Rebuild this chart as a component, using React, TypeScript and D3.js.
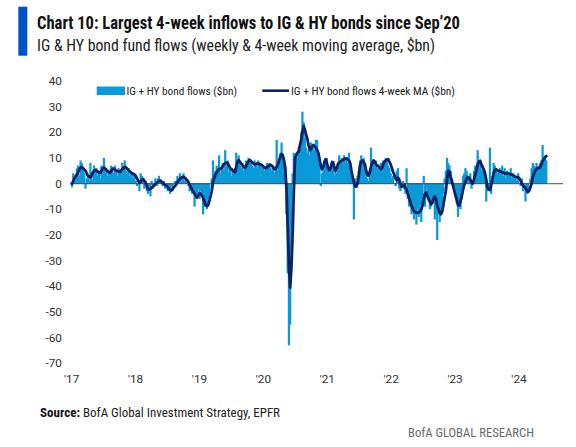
import React from "react";
import * as d3 from "d3";

// Weekly IG + HY bond fund flows ($bn), Jan 2017 onward (388 weeks)
const weeklyFlows: number[] = [
  -1.5, 4, 3, 1.5, 6, 7, 3, 9, 8, 5,
  4, -2, 2, 3, 1, 8, 3, 1, 7, 6,
  6, 3, 5, 2, 7, 5, 10, 4, 6, 3,
  5, 3, 7, 6, 4, 7, 5, 3, 6, 4,
  5, 8, 6, 9, 5, 4, 6, 3, 5, 2,
  4, 3, 1, -1, 0, -3, 4, 3, 1, -2,
  -1, -3, -4, -1, -5, 1, -2, 0, 2, -1,
  2, 3, 1, 0, -1, 1, -2, 0, -3, -2,
  -4, -1, -3, 0, 1, 0, 3, 2, 4, 1,
  3, 4, 1, 2, 0, -1, -3, -2, -4, -3,
  -9, -5, -4, -2, -6, -3, -5, -12, -8, -9,
  -10, -6, -4, 0, 2, 9, 3, 5, 7, 6,
  11, 4, 6, 8, 5, 13, 7, 9, 4, 6,
  3, 5, 4, 6, 12, 9, 11, 7, 6, 8,
  5, 7, 9, 8, 10, 8, 9, 7, 6, 9,
  8, 6, 9, 7, 8, 6, 7, 5, 6, 8,
  7, 8, 6, 5, 7, 4, 6, 17, 5, 9,
  12, 16, 11, 9, 7, -12, -35, -63, -55, -25,
  4, 12, 11, 12, 10, 14, 15, 20, 28, 24,
  18, 14, 12, 13, 11, 16, 15, 14, 13, 17,
  17, 12, 10, -1, 4, 5, 9, 8, 10, 6,
  4, 6, 9, 8, 3, 5, 4, 8, 11, 9,
  10, 8, 11, 9, 10, 8, 12, 7, 2, 3,
  -14, 2, 1, 3, 5, 9, 11, 8, 10, 7,
  5, 2, 1, 4, 14, 6, 8, 7, 9, 6,
  5, 6, 8, 7, 9, 8, 10, 9, 7, 6,
  4, 2, 3, 0, -1, 5, 6, -2, -3, -1,
  1, -2, -4, 6, -6, -9, -8, -12, -10, -14,
  -12, -16, -10, -13, -8, -15, -6, 3, -9, -2,
  -4, -7, -10, -9, -6, -5, -14, -12, -22, -10,
  -15, -12, -8, -4, 2, 5, 10, 8, 7, 5,
  2, -1, -3, -5, -8, -13, -9, -10, -6, 3,
  4, 6, 5, 2, 1, 4, -2, 1, 5, 7,
  6, 13, 9, 8, 5, 7, 4, 2, -7, -3,
  -2, 14, -4, 3, 8, 7, 6, 4, 5, 6,
  5, 7, 3, 6, 2, 5, 4, 3, 6, 2,
  4, 2, 3, 1, 4, 0, -1, 2, -3, -2,
  -7, -4, -2, 0, 2, 6, 8, 7, 5, 8,
  7, 6, 8, 9, 15, 8, 10, 9,
];

// 4-week moving average ($bn)
const movingAverage: number[] = [
  0, 1, 2, 2.8, 3.5, 4.5, 5.5, 6.2, 6.5, 6,
  5.5, 5, 4, 3, 2.7, 2.5, 3.2, 4.3, 5, 5.2,
  5, 4.6, 4.3, 4.2, 5, 5.8, 6.2, 5.8, 5.2, 4.8,
  4.5, 4.2, 5, 5.8, 5.8, 5.4, 5.1, 4.9, 4.7, 4.5,
  5, 5.6, 6, 6.5, 6.3, 5.8, 5.3, 4.7, 4.3, 4,
  3.8, 3.5, 3, 2, 1, 0.3, 0.8, 1.5, 1.8, 1,
  0.5, -1, -2, -2.3, -2, -1.6, -1.2, -0.8, -0.3, 0.2,
  0.6, 1, 1.2, 0.8, 0.2, -0.2, -0.5, -0.8, -1.3, -2,
  -2.5, -2.7, -2.2, -1.5, -1, -0.3, 0.6, 1.3, 1.8, 2.2,
  2.5, 2.6, 2.2, 1.8, 1.3, 0.6, -0.5, -1.5, -2.4, -3.2,
  -4, -4.8, -5.5, -4.6, -3.8, -4, -4.8, -5.5, -7, -8.5,
  -8.8, -8.5, -7, -5, -3, 0.5, 2, 3.5, 4.4, 5,
  5.6, 5.8, 6, 6.8, 7.6, 8, 8.1, 8, 7, 6,
  5.6, 5.2, 4.8, 4.4, 6.5, 8.5, 9.2, 8.5, 7.7, 7.2,
  6.6, 6.1, 6.8, 7.8, 8.6, 9.2, 8.8, 8.2, 7.8, 7.5,
  7.6, 7.8, 7.8, 7.5, 7.3, 7.2, 6.7, 6.2, 6, 6.3,
  6.5, 7.1, 7.3, 6.9, 6.5, 5.8, 5.6, 6.4, 7.5, 9,
  10.5, 11.5, 11, 9, 6, -2, -17, -32, -40.5, -33,
  -20, -3, 10, 11, 12, 12.5, 15, 17, 20, 22.5,
  21, 19, 17.5, 15, 13, 13.5, 14.5, 15, 14.5, 14,
  13, 12, 9.5, 7, 5.5, 6.5, 8.5, 9.5, 8, 6,
  5.2, 6, 8, 8.3, 6.5, 5, 6, 7.5, 8.2, 8.6,
  8.8, 9.2, 9.5, 9.7, 9.8, 9.4, 9, 8, 5, 2.5,
  0.5, -1, -1.2, 0, 3, 7, 8.5, 9, 8.5, 7.5,
  5, 3.5, 3, 4.5, 6.5, 8, 9, 8.5, 7.5, 7,
  6.8, 6, 5.6, 6, 7.5, 8.5, 9, 9.3, 9.5, 8.5,
  7.5, 6, 4.5, 3.5, 2, 1.3, 2.3, 1.5, 0, -1.3,
  -1, -0.5, -1.5, -2.5, -4, -5.5, -7, -8.5, -9.8, -10.8,
  -11, -11.3, -11.4, -11.2, -10.8, -10.2, -8.5, -6, -4, -3.5,
  -5, -6, -7, -8, -7.5, -6, -5, -6, -8.5, -10,
  -11.5, -12, -11, -8.5, -5.5, -3, 1.5, 5, 4.5, 2.5,
  1, -1, -3, -4.8, -6.5, -8.5, -8.5, -7, -5, -2.5,
  -0.5, 0.5, 2, 2.6, 2.2, 1.5, 0.5, 0, 1.5, 3.5,
  5, 7.5, 8.5, 8.9, 7.5, 6.5, 5.5, 4, 1.5, -1.5,
  -2.3, -2.5, -0.5, 1.5, 4, 5.3, 5.5, 5.2, 5, 4.8,
  4.6, 4.4, 4.2, 4, 3.8, 3.9, 4, 3.7, 3.5, 3.5,
  3.2, 2.8, 2.6, 2.5, 2.5, 2, 1.2, 0, -0.8, -1.3,
  -1.6, -2.5, -3.3, -2.8, -1.5, 0, 2.5, 4, 5, 5.8,
  5.9, 6, 6.3, 7.5, 8.8, 9.5, 10.3, 10.7,
];

const yTicks: number[] = [40, 30, 20, 10, 0, -10, -20, -30, -40, -50, -60, -70];
const xTickYears: number[] = [2017, 2018, 2019, 2020, 2021, 2022, 2023, 2024];
const xTickLabels: string[] = ["'17", "'18", "'19", "'20", "'21", "'22", "'23", "'24"];

const TITLE = "Chart 10: Largest 4-week inflows to IG & HY bonds since Sep\u201920";
const SUBTITLE = "IG & HY bond fund flows (weekly & 4-week moving average, $bn)";
const LEGEND_BARS = "IG + HY bond flows ($bn)";
const LEGEND_LINE = "IG + HY bond flows 4-week MA ($bn)";

const BAR_COLOR = "#0a9ad9";
const LINE_COLOR = "#0c2266";
const NARROW = "'Liberation Sans Narrow', 'Roboto Condensed', Roboto, sans-serif";
const TICK_FONT = "Roboto, 'Liberation Sans', sans-serif";

export default function App() {
  const W = 576;
  const H = 447;

  const n = weeklyFlows.length;
  const x = d3.scaleLinear().domain([0, n - 1]).range([72, 546.3]);
  const y = d3.scaleLinear().domain([-70, 40]).range([363.2, 80.9]);
  const xYear = d3.scaleLinear().domain([2017, 2024]).range([71.7, 519]);

  const step = x(1) - x(0);
  const barW = step + 1.0;

  const line = d3
    .line<number>()
    .x((_, i) => x(i))
    .y((d) => y(d))
    .curve(d3.curveLinear);

  const y0 = y(0);

  return (
    <svg
      width={W}
      height={H}
      viewBox={`0 0 ${W} ${H}`}
      style={{ position: "absolute", left: 0, top: 0, background: "#fff" }}
    >
      {/* header accent bar */}
      <rect x={18.3} y={6.7} width={9} height={49} fill="#0052c9" />
      <text
        x={37}
        y={28.5}
        fontFamily={NARROW}
        fontWeight={700}
        fontSize={17.5}
        fill="#111"
        textLength={423}
        lengthAdjust="spacingAndGlyphs"
      >
        {TITLE}
      </text>
      <text
        x={37}
        y={50.5}
        fontFamily={NARROW}
        fontSize={16.5}
        fill="#222"
        textLength={398}
        lengthAdjust="spacingAndGlyphs"
      >
        {SUBTITLE}
      </text>

      {/* y tick labels */}
      {yTicks.map((t) => (
        <text
          key={t}
          x={62}
          y={y(t)}
          dy="0.36em"
          textAnchor="end"
          fontFamily={TICK_FONT}
          fontSize={11.8}
          fill="#333"
        >
          {t}
        </text>
      ))}

      {/* x tick labels */}
      {xTickYears.map((yr, i) => (
        <text
          key={yr}
          x={xYear(yr)}
          y={382.5}
          textAnchor="middle"
          fontFamily={TICK_FONT}
          fontSize={11.8}
          fill="#333"
        >
          {xTickLabels[i]}
        </text>
      ))}

      {/* weekly bars */}
      <g>
        {weeklyFlows.map((v, i) => (
          <rect
            key={i}
            x={x(i) - barW / 2}
            y={Math.min(y(v), y0)}
            width={barW}
            height={Math.abs(y(v) - y0)}
            fill={BAR_COLOR}
          />
        ))}
      </g>

      {/* zero line */}
      <line x1={70} x2={563} y1={y0} y2={y0} stroke="#3c3c3c" strokeOpacity={0.72} strokeWidth={1.3} />

      {/* moving average */}
      <path
        d={line(movingAverage) || ""}
        fill="none"
        stroke={LINE_COLOR}
        strokeWidth={2.8}
        strokeLinejoin="round"
        strokeLinecap="round"
      />

      {/* legend */}
      <rect x={96.7} y={86.5} width={28.3} height={8.5} fill={BAR_COLOR} />
      <text
        x={126.5}
        y={95}
        fontFamily={NARROW}
        fontSize={11.5}
        fill="#222"
        textLength={110.5}
        lengthAdjust="spacingAndGlyphs"
      >
        {LEGEND_BARS}
      </text>
      <line x1={262.3} x2={289} y1={90.7} y2={90.7} stroke={LINE_COLOR} strokeWidth={2.6} />
      <text
        x={291}
        y={95}
        fontFamily={NARROW}
        fontSize={11.5}
        fill="#222"
        textLength={164}
        lengthAdjust="spacingAndGlyphs"
      >
        {LEGEND_LINE}
      </text>

      {/* source */}
      <text
        x={40}
        y={416.5}
        fontFamily={NARROW}
        fontWeight={700}
        fontSize={13.5}
        fill="#111"
        textLength={40}
        lengthAdjust="spacingAndGlyphs"
      >
        Source:
      </text>
      <text
        x={83}
        y={416.5}
        fontFamily={NARROW}
        fontSize={13.5}
        fill="#222"
        textLength={197}
        lengthAdjust="spacingAndGlyphs"
      >
        BofA Global Investment Strategy, EPFR
      </text>
      <text
        x={408}
        y={436.5}
        fontFamily={NARROW}
        fontSize={13}
        fill="#6b6b6b"
        textLength={126}
        lengthAdjust="spacingAndGlyphs"
      >
        BofA GLOBAL RESEARCH
      </text>
    </svg>
  );
}
